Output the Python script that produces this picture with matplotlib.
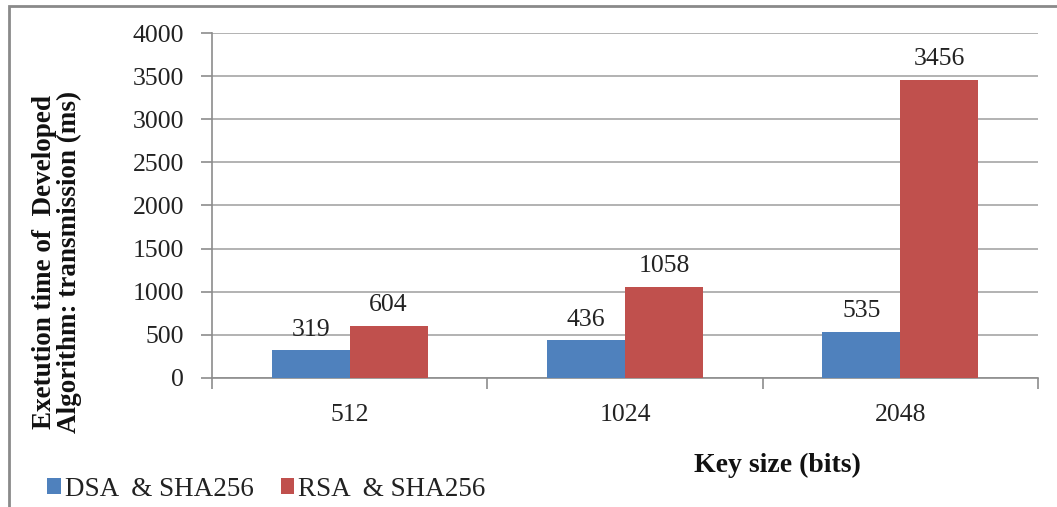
import matplotlib
matplotlib.use("Agg")
import matplotlib.pyplot as plt
from matplotlib.patches import Rectangle
import numpy as np

key_sizes = ["512", "1024", "2048"]
dsa_sha256 = [319, 436, 535]
rsa_sha256 = [604, 1058, 3456]
series_names = ["DSA  & SHA256", "RSA  & SHA256"]
y_ticks = [0, 500, 1000, 1500, 2000, 2500, 3000, 3500, 4000]

plt.rcParams["font.family"] = ["Liberation Serif", "DejaVu Serif"]

W, H = 1057, 507
fig = plt.figure(figsize=(W / 100, H / 100), dpi=100)
fig.patch.set_facecolor("white")

# outer chart frame (left and top edges visible)
fig.patches.append(Rectangle((9 / W, -0.2), 2.0, 1.2 - 6 / H,
                             transform=fig.transFigure, fill=False,
                             edgecolor="#8a8a8a", linewidth=2.0))

ax = fig.add_axes([212 / W, 1 - 378 / H, (1038 - 212) / W, (378 - 33) / H])

x = np.arange(len(key_sizes))
bw = 0.283
blue = "#4F81BD"
red = "#C0504D"
b1 = ax.bar(x - bw / 2, dsa_sha256, bw, color=blue, label=series_names[0], zorder=3)
b2 = ax.bar(x + bw / 2, rsa_sha256, bw, color=red, label=series_names[1], zorder=3)

for bars, vals in ((b1, dsa_sha256), (b2, rsa_sha256)):
    for r, v in zip(bars, vals):
        ax.annotate(str(v), (r.get_x() + r.get_width() / 2, v),
                    xytext=(0, 7), textcoords="offset points",
                    ha="center", va="bottom", fontsize=18.5, color="#222222")

ax.set_ylim(0, 4000)
ax.set_xlim(-0.5, 2.5)
ax.set_yticks(y_ticks)
ax.yaxis.grid(True, color="#a6a6a6", linewidth=1.2, zorder=0)
ax.set_axisbelow(True)

ax.set_xticks(x)
ax.set_xticklabels(key_sizes)
ax.set_xticks([-0.5, 0.5, 1.5, 2.5], minor=True)
ax.tick_params(axis="x", which="major", length=0, pad=19, labelsize=18.5, labelcolor="#222222")
ax.tick_params(axis="x", which="minor", length=8, width=1.2, color="#8c8c8c", direction="out")
ax.tick_params(axis="y", length=8, width=1.2, color="#8c8c8c", pad=12, labelsize=18.5, labelcolor="#222222")

for s in ("top", "right"):
    ax.spines[s].set_visible(False)
for s in ("left", "bottom"):
    ax.spines[s].set_color("#8c8c8c")
    ax.spines[s].set_linewidth(1.2)

fig.text(57 / W, 1 - 262 / H,
         "Exetution time of  Developed\nAlgorithm: transmission (ms)",
         rotation=90, ha="center", va="center", fontsize=19.5,
         fontweight="bold", linespacing=0.95, color="#111111")

fig.text(777 / W, 1 - 465 / H, "Key size (bits)", ha="center", va="center",
         fontsize=20, fontweight="bold", color="#111111")

leg = fig.legend(handles=[b1, b2], labels=series_names, loc="center left",
                 bbox_to_anchor=(47 / W, 1 - 489 / H), ncol=2, frameon=False,
                 fontsize=19.5, handlelength=0.5, handleheight=0.5,
                 handletextpad=0.15, columnspacing=1.0, borderaxespad=0,
                 borderpad=0)
for t in leg.get_texts():
    t.set_color("#222222")

fig.savefig("out.png", dpi=100, facecolor="white")
